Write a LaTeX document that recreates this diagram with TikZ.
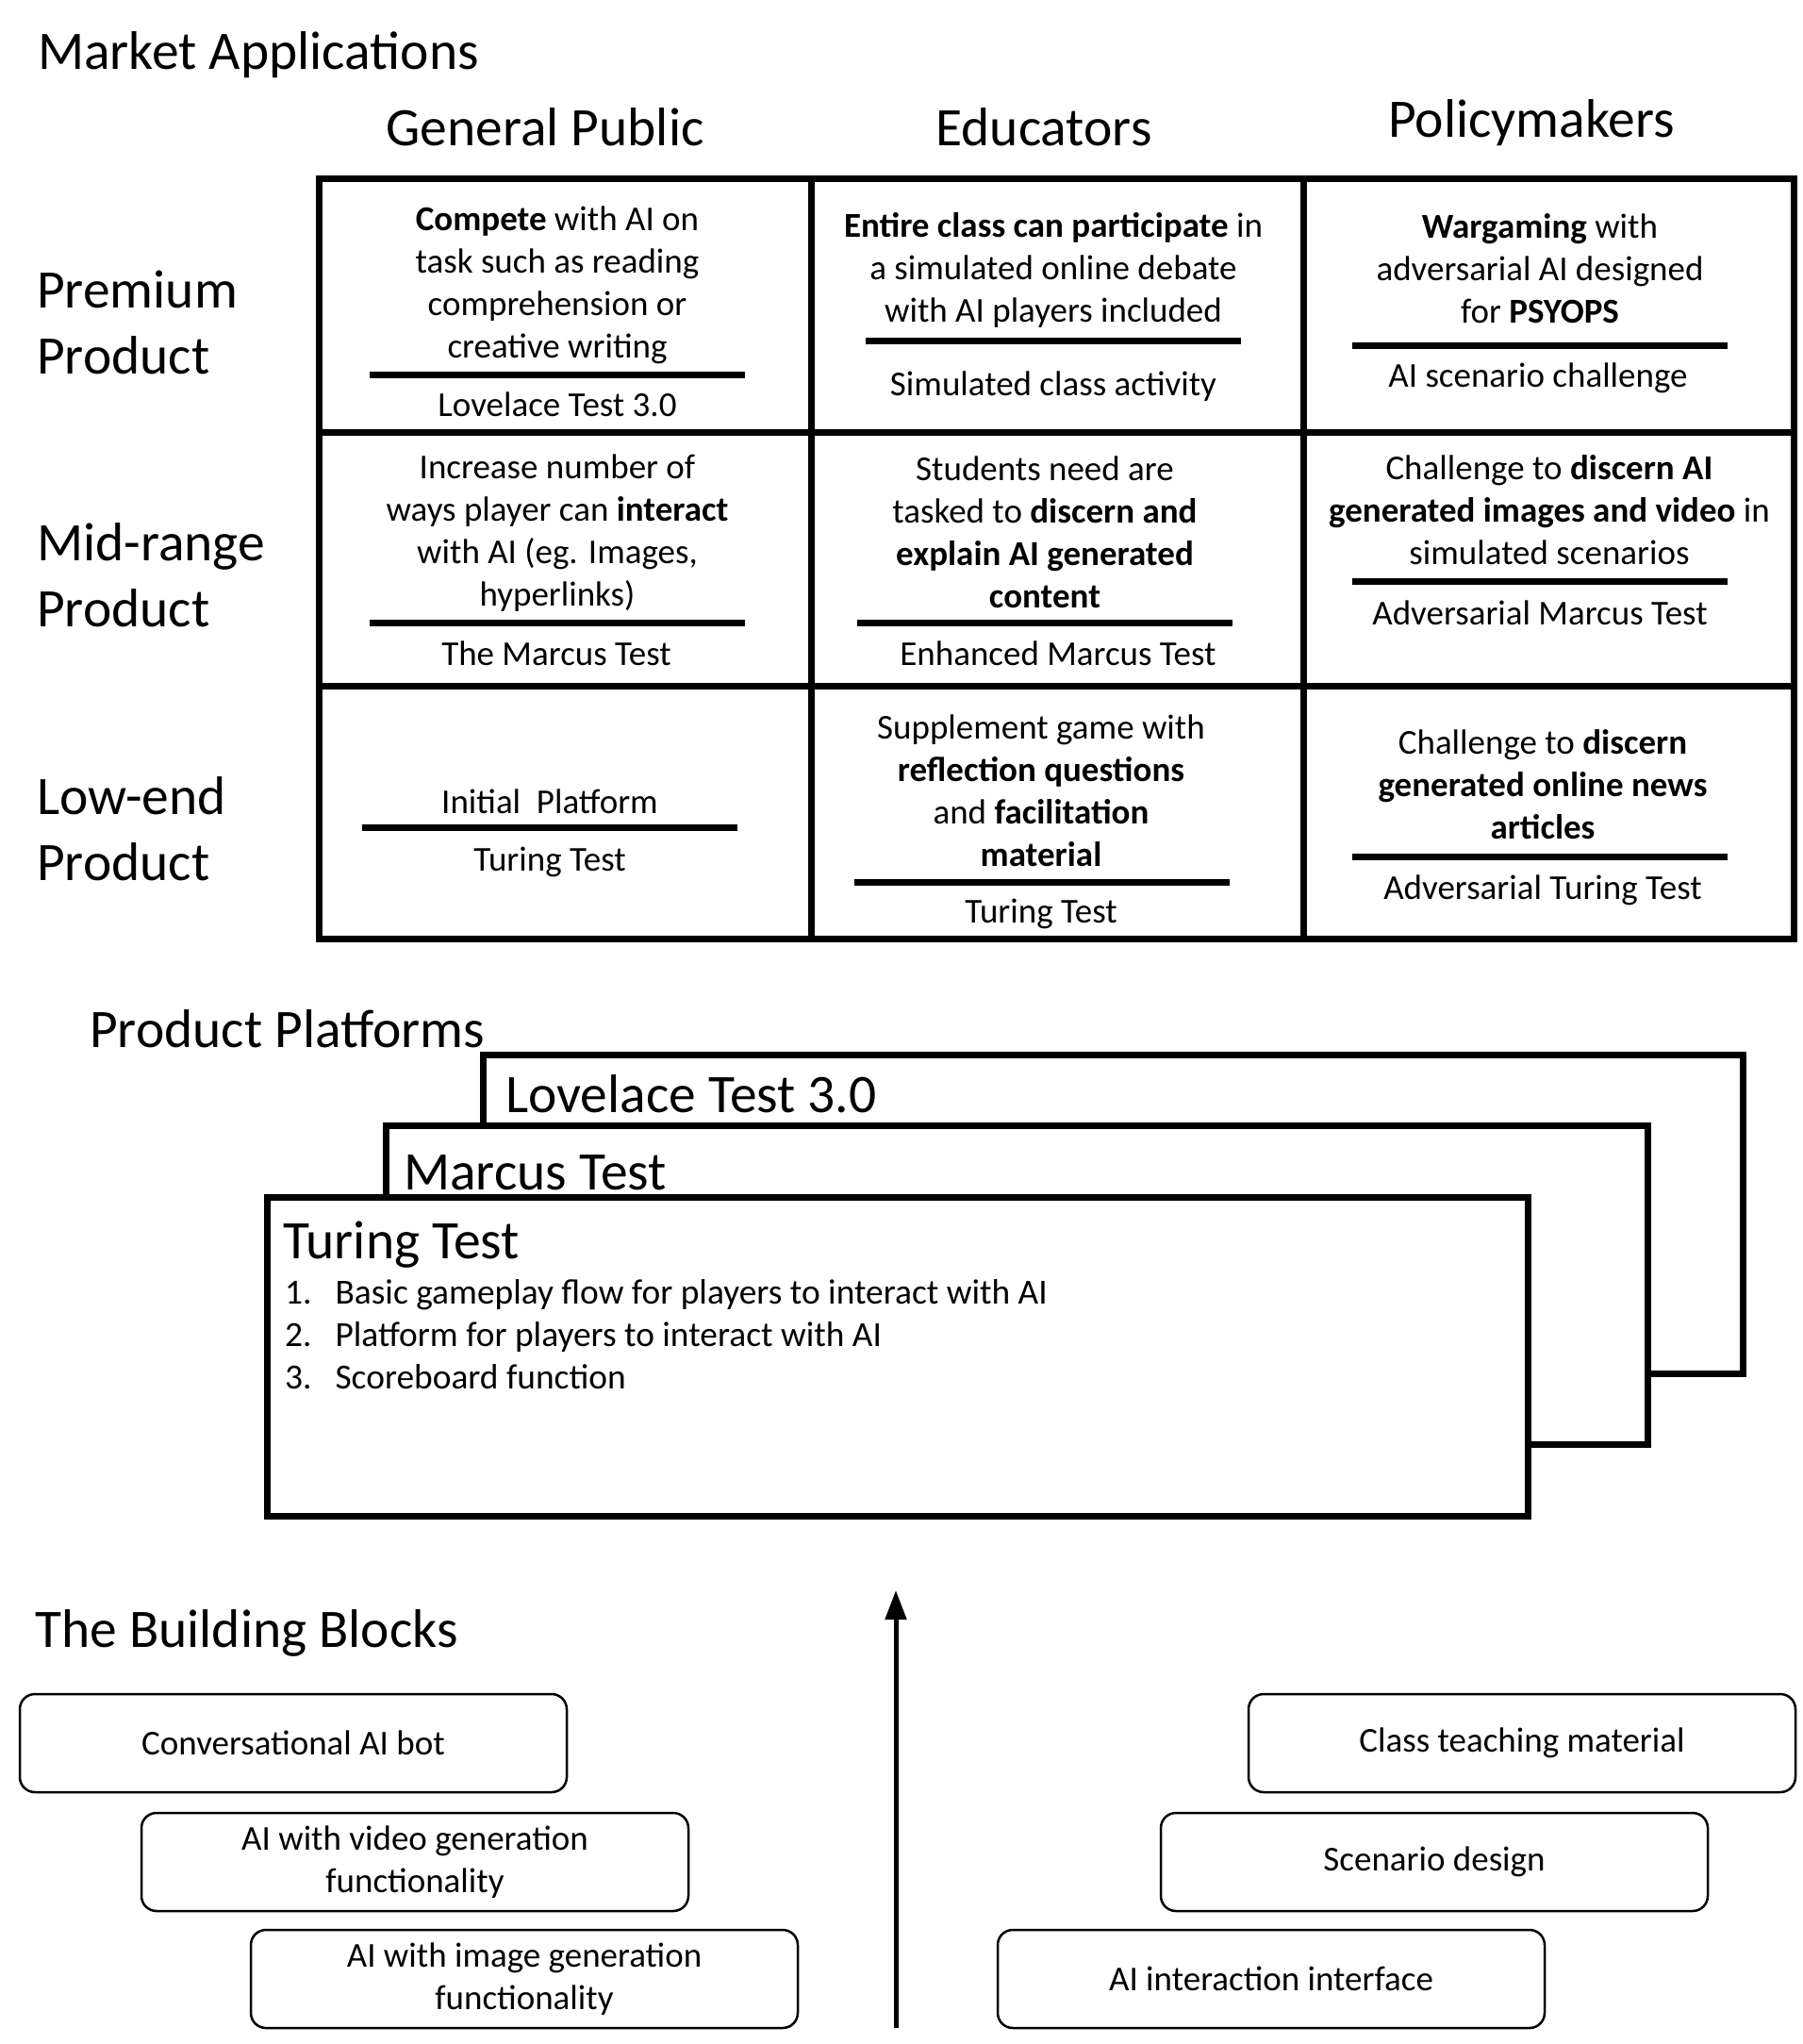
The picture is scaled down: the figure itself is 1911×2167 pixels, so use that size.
\documentclass[tikz,border=0pt]{standalone}
\usepackage{fontspec}
\setmainfont{Carlito}
\usetikzlibrary{arrows.meta}

\begin{document}
\begin{tikzpicture}[x=1pt, y=-1pt,
  big/.style={font=\fontsize{57.5}{70}\selectfont, inner sep=0pt},
  txt/.style={font=\fontsize{37}{45}\selectfont, align=center, inner sep=0pt},
  lab/.style={txt, anchor=base},
  rule/.style={line width=7pt},
  grid/.style={line width=7pt},
  plat/.style={line width=7pt, fill=white},
  block/.style={draw, line width=2.5pt, rounded corners=16pt, minimum width=580pt, minimum height=104pt, txt}]%
\useasboundingbox (0,0) rectangle (1911,2167);%
% titles
\node[big, anchor=base west] (market) at (40,74) {Market Applications};%
\node[big, anchor=base] (hpublic) at (578,155) {General Public};%
\node[big, anchor=base] (heduc) at (1107,155) {Educators};%
\node[big, anchor=base] (hpolicy) at (1624,146) {Policymakers};%
\node[big, align=left, anchor=west] (rprem) at (39,342) {Premium\\Product};%
\node[big, align=left, anchor=west] (rmid) at (39,610) {Mid-range\\Product};%
\node[big, align=left, anchor=west] (rlow) at (39,879) {Low-end\\Product};%
% grid
\draw[grid] (338,190) rectangle (1902,995);%
\draw[grid] (860,190) -- (860,995);%
\draw[grid] (1382,190) -- (1382,995);%
\draw[grid] (338,458) -- (1902,458);%
\draw[grid] (338,727) -- (1902,727);%
% premium row
\node[txt] (pubprem) at (591,302) {\textbf{Compete} with AI on\\task such as reading\\comprehension or\\creative writing};%
\draw[rule] (392,397) -- (790,397);%
\node[lab] (lovelace) at (591,441) {Lovelace Test 3.0};%
\node[txt] (eduprem) at (1117,286) {\textbf{Entire class can participate} in\\a simulated online debate\\with AI players included};%
\draw[rule] (918,361) -- (1316,361);%
\node[lab] (simclass) at (1117,419) {Simulated class activity};%
\node[txt] (polprem) at (1633,285) {\textbf{Wargaming} with\\adversarial AI designed\\for \textbf{PSYOPS}};%
\draw[rule] (1434,366) -- (1832,366);%
\node[lab] (scenchal) at (1631,410) {AI scenario challenge};%
% mid-range row
\node[txt] (pubmid) at (591,565) {Increase number of\\ways player can \textbf{interact}\\with AI (eg. Images,\\hyperlinks)};%
\draw[rule] (392,660) -- (790,660);%
\node[lab] (marcus) at (590,705) {The Marcus Test};%
\node[txt] (edumid) at (1108,564) {Students need are\\tasked to \textbf{discern and}\\\textbf{explain AI generated}\\\textbf{content}};%
\draw[rule] (909,660) -- (1307,660);%
\node[lab] (enhmarcus) at (1122,705) {Enhanced Marcus Test};%
\node[txt] (polmid) at (1643,541) {Challenge to \textbf{discern AI}\\\textbf{generated images and video} in\\simulated scenarios};%
\draw[rule] (1434,616) -- (1832,616);%
\node[lab] (advmarcus) at (1633,662) {Adversarial Marcus Test};%
% low-end row
\node[lab] (initial) at (583,862) {Initial\ \ Platform};%
\draw[rule] (384,877) -- (782,877);%
\node[lab] (turing) at (583,923) {Turing Test};%
\node[txt] (edulow) at (1104,838) {Supplement game with\\\textbf{reflection questions}\\and \textbf{facilitation}\\\textbf{material}};%
\draw[rule] (906,935) -- (1304,935);%
\node[lab] (eduturing) at (1104,978) {Turing Test};%
\node[txt] (pollow) at (1636,832) {Challenge to \textbf{discern}\\\textbf{generated online news}\\\textbf{articles}};%
\draw[rule] (1434,908) -- (1832,908);%
\node[lab] (advturing) at (1636,953) {Adversarial Turing Test};%
% product platforms
\node[big, anchor=base west] (platforms) at (95,1110) {Product Platforms};%
\draw[plat] (512,1118) rectangle (1848,1456);%
\node[big, anchor=base west] (plove) at (536,1179) {Lovelace Test 3.0};%
\draw[plat] (409,1193) rectangle (1747,1531);%
\node[big, anchor=base west] (pmarcus) at (428,1261) {Marcus Test};%
\draw[plat] (283,1269) rectangle (1620,1607);%
\node[big, anchor=base west] (pturing) at (300,1334) {Turing Test};%
\node[txt, anchor=base west, font=\fontsize{37.4}{45}\selectfont] (plist) at (302,1382) {\begin{tabular}[t]{@{}l@{\hspace{25pt}}l@{}}1.&Basic gameplay flow for players to interact with AI\\2.&Platform for players to interact with AI\\3.&Scoreboard function\end{tabular}};%
% building blocks
\node[big, anchor=base west] (blocks) at (37,1746) {The Building Blocks};%
\node[block] (chatbot) at (311,1848) {Conversational AI bot};%
\node[block] (videoai) at (440,1974) {AI with video generation\\functionality};%
\node[block] (imageai) at (556,2098) {AI with image generation\\functionality};%
\node[block] (teaching) at (1614,1848) {Class teaching material};%
\node[block] (scenario) at (1521,1974) {Scenario design};%
\node[block] (interface) at (1348,2098) {AI interaction interface};%
\coordinate (arrbot) at (950,2150);%
\coordinate (arrtop) at (950,1686);%
\draw[line width=5pt, -{Triangle[length=31pt, width=22pt]}] (arrbot) -- (arrtop);%
\end{tikzpicture}
\end{document}
